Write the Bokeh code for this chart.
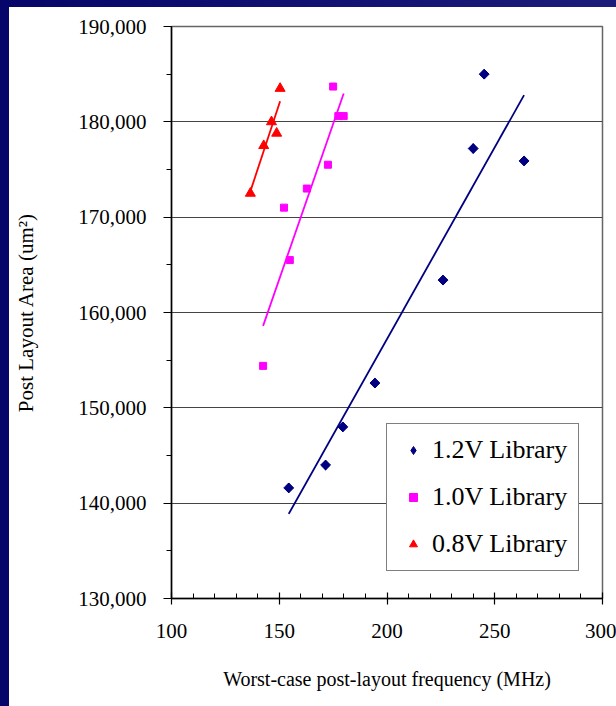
import numpy as np
from bokeh.plotting import figure
from bokeh.models import (Legend, LegendItem, SingleIntervalTicker,
                          NumeralTickFormatter, Range1d)
from bokeh.embed import file_html
from bokeh.resources import INLINE

# ---- data ----
v12_freq = [154.4, 171.5, 179.5, 194.4, 226.0, 240.0, 245.1, 263.6]
v12_area = [141600, 144000, 148000, 152600, 163400, 177200, 185000, 175900]

v10_freq = [142.5, 152.2, 154.9, 162.8, 172.6, 175.0, 177.4, 179.9]
v10_area = [154400, 171000, 165500, 173000, 175500, 183700, 180600, 180600]

v08_freq = [136.6, 142.8, 146.4, 148.8, 150.4]
v08_area = [172500, 177500, 180000, 178800, 183500]

series_names = ["1.2V Library", "1.0V Library", "0.8V Library"]
series_colors = ["#000080", "#FF00FF", "#FF0000"]

FONT = "Liberation Serif"

frame_bg = ("linear-gradient(to right, #06066a, #1c1c7a) top left / 100% 7px no-repeat, "
            "linear-gradient(#06066a, #06066a) top left / 9px 100% no-repeat, white")

p = figure(width=616, height=706, output_backend="svg", toolbar_location=None,
           x_range=Range1d(100, 300), y_range=Range1d(130000, 190000),
           min_border_left=171, min_border_right=14, min_border_top=26,
           min_border_bottom=108, background_fill_color="white",
           border_fill_color=None, styles={"background": frame_bg})

p.outline_line_color = "#666666"
p.outline_line_width = 1.5

# axes
p.xaxis.ticker = SingleIntervalTicker(interval=50, num_minor_ticks=5)
p.yaxis.ticker = SingleIntervalTicker(interval=10000, num_minor_ticks=2)
p.yaxis.formatter = NumeralTickFormatter(format="0,0")

for ax in (p.xaxis[0], p.yaxis[0]):
    ax.axis_line_color = "black"
    ax.axis_line_width = 1.5
    ax.major_tick_line_color = "black"
    ax.minor_tick_line_color = "black"
    ax.major_tick_line_width = 1.2
    ax.minor_tick_line_width = 1
    ax.major_label_text_font = FONT
    ax.major_label_text_font_size = "21px"
    ax.major_label_text_color = "black"
    ax.axis_label_text_font = FONT
    ax.axis_label_text_font_style = "normal"
    ax.axis_label_text_color = "black"

p.xaxis.major_tick_in = 6
p.xaxis.major_tick_out = 6
p.xaxis.minor_tick_in = 5
p.xaxis.minor_tick_out = 0
p.xaxis.major_label_standoff = 19
p.xaxis.axis_label = "Worst-case post-layout frequency (MHz)"
p.xaxis.axis_label_text_font_size = "20px"
p.xaxis.axis_label_standoff = 27

p.yaxis.major_tick_in = 0
p.yaxis.major_tick_out = 8
p.yaxis.minor_tick_in = 0
p.yaxis.minor_tick_out = 5
p.yaxis.major_label_standoff = 17
p.yaxis.axis_label = "Post Layout Area (um\u00b2)"
p.yaxis.axis_label_text_font_size = "21px"
p.yaxis.axis_label_standoff = 37

p.xgrid.grid_line_color = None
p.ygrid.grid_line_color = "#444444"
p.ygrid.grid_line_width = 1

# trend lines (least squares fit of each series)
for fx, fy, c in [(v12_freq, v12_area, series_colors[0]),
                  (v10_freq, v10_area, series_colors[1]),
                  (v08_freq, v08_area, series_colors[2])]:
    k, b = np.polyfit(fx, fy, 1)
    xs = [min(fx), max(fx)]
    p.line(xs, [k * x + b for x in xs], line_color=c, line_width=1.8)

# 1.2V points: a diamond (legend key) covered by a square turned 45 degrees
r12 = p.scatter(v12_freq, v12_area, marker="diamond", size=9.5,
                fill_color=series_colors[0], line_color=series_colors[0])
p.scatter(v12_freq, v12_area, marker="square", angle=np.pi / 4, size=7,
          fill_color=series_colors[0], line_color=series_colors[0])
r10 = p.scatter(v10_freq, v10_area, marker="square", size=7,
                fill_color=series_colors[1], line_color=series_colors[1])
r08 = p.scatter(v08_freq, v08_area, marker="triangle", size=10,
                fill_color=series_colors[2], line_color=series_colors[2])

legend = Legend(items=[LegendItem(label=series_names[0], renderers=[r12]),
                       LegendItem(label=series_names[1], renderers=[r10]),
                       LegendItem(label=series_names[2], renderers=[r08])],
                location=(215, 27))
legend.label_text_font = FONT
legend.label_text_font_size = "26px"
legend.label_text_color = "black"
legend.label_height = 30
legend.glyph_height = 20
legend.glyph_width = 30
legend.label_standoff = 4
legend.spacing = 17
legend.padding = 11
legend.margin = 0
legend.border_line_color = "black"
legend.border_line_width = 1
legend.background_fill_color = "white"
legend.background_fill_alpha = 1
p.add_layout(legend)

open("out.html", "w").write(file_html(p, INLINE))
